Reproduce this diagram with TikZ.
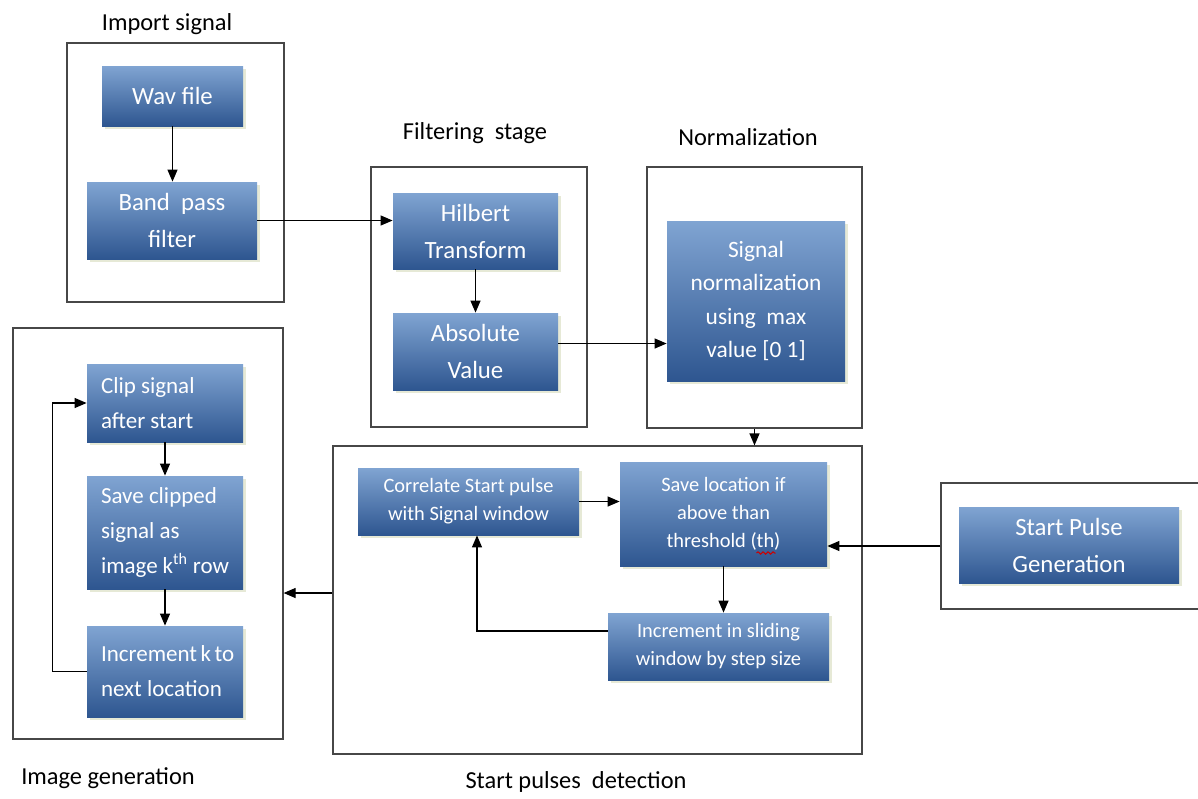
\documentclass[tikz,border=0pt]{standalone}
\usepackage{fontspec}
\setmainfont{Carlito}
\usetikzlibrary{arrows.meta,positioning,shadows,decorations.pathmorphing}
\definecolor{BoxTop}{RGB}{128,164,210}
\definecolor{BoxBottom}{RGB}{46,86,144}
\definecolor{ShadowTint}{RGB}{230,233,214}
\tikzset{
  bluebox/.style={rectangle, top color=BoxTop, bottom color=BoxBottom, text=white,
    align=center, inner sep=2pt,
    drop shadow={shadow xshift=1.5pt, shadow yshift=-1.5pt, fill=ShadowTint, opacity=1}},
  leftbox/.style={bluebox, align=flush left, text width=64pt, inner xsep=7pt,
    font=\fontsize{11.5}{17.5}\selectfont},
  bigtext/.style={font=\fontsize{12.4}{18.5}\selectfont},
  midtext/.style={font=\fontsize{11.7}{16.8}\selectfont},
  smalltext/.style={font=\fontsize{10.2}{14}\selectfont},
  groupframe/.style={draw=black!72, line width=0.6pt, inner sep=0pt},
  grouptitle/.style={anchor=base, font=\fontsize{12.2}{14}\selectfont},
  flowarrow/.style={-{Triangle[length=6pt,width=5pt]}, line width=0.6pt, draw=black},
  spellmark/.style={draw=red!80!black, line width=0.5pt, decorate,
    decoration={snake, amplitude=0.6pt, segment length=2.5pt}}
}
\begin{document}
\begin{tikzpicture}[x=0.5pt, y=-0.5pt]
      \useasboundingbox (0,0) rectangle (1198,798);
      % group frames
      \node[groupframe, minimum width=108.5pt, minimum height=129.5pt] (frImport) at (175.5,172.5) {};
      \node[groupframe, minimum width=108pt, minimum height=130pt] (frFilter) at (479,297) {};
      \node[groupframe, minimum width=107.5pt, minimum height=130.5pt] (frNorm) at (754.5,297.5) {};
      \node[groupframe, minimum width=264.5pt, minimum height=154pt] (frDetect) at (597.5,600) {};
      \node[groupframe, minimum width=135pt, minimum height=205.5pt] (frImage) at (148,533.5) {};
      \node[groupframe, minimum width=137pt, minimum height=63pt] (frPulse) at (1078,546) {};
      % titles
      \node[grouptitle] (tImport) at (167,30) {Import signal};
      \node[grouptitle] (tFilter) at (475,139) {Filtering\ \ stage};
      \node[grouptitle] (tNorm) at (748,145) {Normalization};
      \node[grouptitle] (tImage) at (108,784) {Image generation};
      \node[grouptitle] (tDetect) at (576,788) {Start pulses\ \ detection};
      % blocks
      \node[bluebox, bigtext, minimum width=70.5pt, minimum height=30pt] (wav) at (172.5,96) {Wav file};
      \node[bluebox, bigtext, minimum width=85pt, minimum height=38.5pt] (band) at (172,220.5) {Band\ \ pass\\filter};
      \node[bluebox, bigtext, minimum width=82.5pt, minimum height=38pt] (hilbert) at (475.5,231) {Hilbert\\Transform};
      \node[bluebox, bigtext, minimum width=82.5pt, minimum height=38.5pt] (absval) at (475.5,351.5) {Absolute\\Value};
      \node[bluebox, midtext, minimum width=89pt, minimum height=80pt] (norm) at (756,301) {Signal\\normalization\\using\ \ max\\value [0 1]};
      \node[bluebox, smalltext, minimum width=110.5pt, minimum height=33.5pt] (corr) at (468.5,501.5) {Correlate Start pulse\\with Signal window};
      \node[bluebox, smalltext, minimum width=103.5pt, minimum height=52pt] (saveloc) at (723.5,514) {Save location if\\above than\\threshold (th)};
      \node[bluebox, smalltext, minimum width=110.5pt, minimum height=33.5pt] (slide) at (718.5,646.5) {Increment in sliding\\window by step size};
      \node[bluebox, bigtext, minimum width=110pt, minimum height=38pt] (pulse) at (1069,545) {Start Pulse\\Generation};
      \node[leftbox, minimum width=78pt, minimum height=39pt] (clip) at (165,403) {Clip~signal\\after~start};
      \node[leftbox, minimum width=78pt, minimum height=56.5pt] (saveclip) at (165,532.5) {Save~clipped\\signal~as\\image~k\textsuperscript{th}~row};
      \node[leftbox, minimum width=78pt, minimum height=45.5pt] (incr) at (165,671.5) {Increment~k~to\\next~location};
      % red spelling mark under th
      \draw[spellmark] ([xshift=16.5pt,yshift=-19.5pt]saveloc.center) -- ([xshift=26pt,yshift=-19.5pt]saveloc.center);
      % connectors
      \draw[flowarrow] (wav) -- (wav |- band.north);
      \draw[flowarrow] (band.east) -- (band.east -| hilbert.west);
      \draw[flowarrow] (hilbert) -- (absval);
      \draw[flowarrow] ([yshift=4pt]absval.east) -- ([yshift=4pt]absval.east -| norm.west);
      \draw[flowarrow] (frNorm.south) -- (frNorm.south |- frDetect.north);
      \draw[flowarrow] (corr.east) -- (corr.east -| saveloc.west);
      \draw[flowarrow] (saveloc.south) -- (saveloc.south |- slide.north);
      \draw[flowarrow] ([yshift=7.75pt]slide.west) -| ([xshift=4.25pt]corr.south);
      \draw[flowarrow] (frPulse.west) -- (frPulse.west -| saveloc.east);
      \draw[flowarrow] ([yshift=3.5pt]frDetect.west) -- ([yshift=3.5pt]frDetect.west -| frImage.east);
      \draw[flowarrow] (clip) -- (saveclip);
      \draw[flowarrow] (saveclip) -- (incr);
      \draw[flowarrow] (incr.west) -- ++(-34,0) |- (clip.west);
    \end{tikzpicture}
\end{document}
